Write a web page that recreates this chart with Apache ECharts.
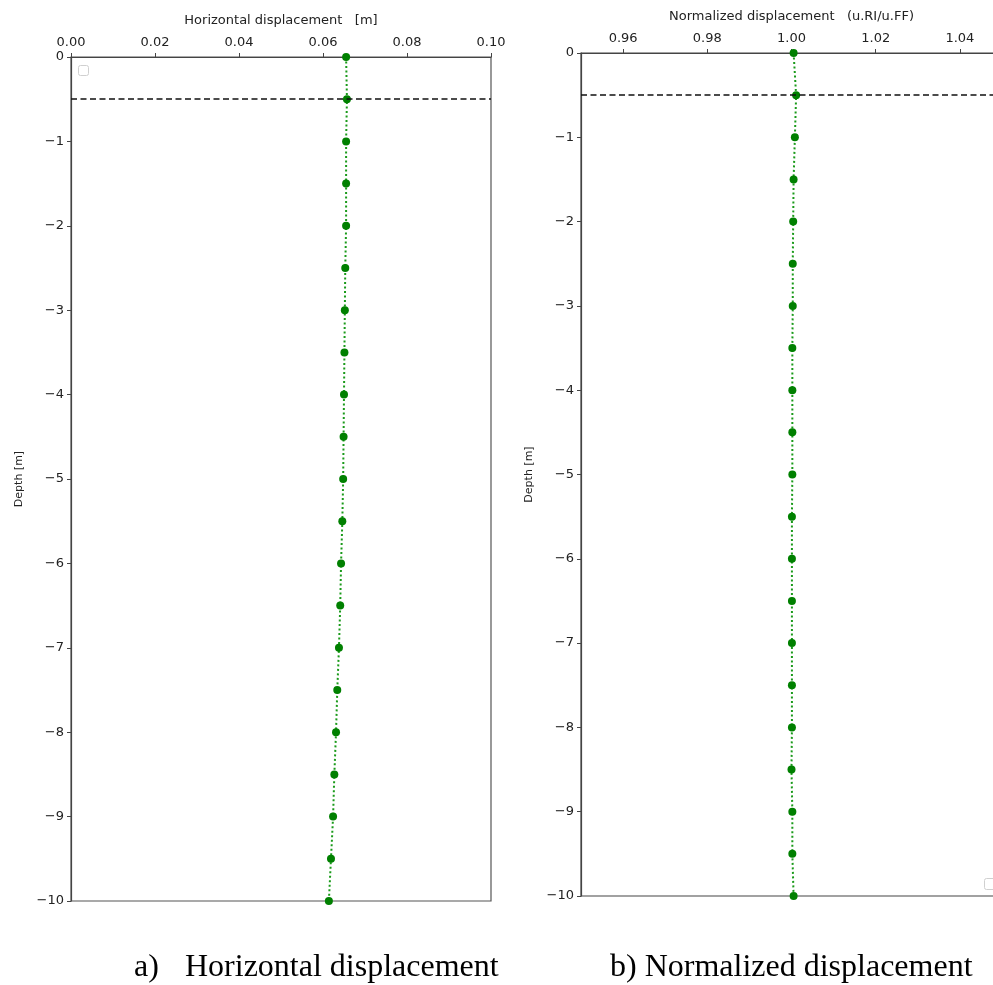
<!DOCTYPE html>
<html>
<head>
<meta charset="utf-8">
<title>Displacement profiles</title>
<script src="https://cdn.jsdelivr.net/npm/echarts@6/dist/echarts.min.js"></script>
<style>
  html, body { margin: 0; padding: 0; background: #fff; }
  #chart { width: 993px; height: 985px; }
</style>
</head>
<body>
<div id="chart"></div>
<script>
// depth of each node [m]
const depth = [0, -0.5, -1, -1.5, -2, -2.5, -3, -3.5, -4, -4.5, -5, -5.5, -6, -6.5, -7, -7.5, -8, -8.5, -9, -9.5, -10]

// a) horizontal displacement [m]
const horizontal = [0.0655, 0.0657, 0.0655, 0.0655, 0.0655, 0.0653, 0.0652, 0.0651, 0.0650, 0.0649, 0.0648, 0.0646, 0.0643, 0.0641, 0.0638, 0.0634, 0.0631, 0.0627, 0.0624, 0.0619, 0.0614]

// b) normalized displacement u.RI/u.FF
const normalized = [1.0005, 1.0011, 1.0008, 1.0005, 1.0004, 1.0003, 1.0003, 1.0002, 1.0002, 1.0002, 1.0002, 1.0001, 1.0001, 1.0001, 1.0001, 1.0001, 1.0001, 1.0000, 1.0002, 1.0002, 1.0005]

// tick labels
const ticksA = [0, 0.02, 0.04, 0.06, 0.08, 0.10]
const ticksB = [0.96, 0.98, 1.00, 1.02, 1.04]

const interfaceDepth = -0.5

const chart = echarts.init(document.getElementById('chart'))

const textColor = '#222'
const fontFamily = 'DejaVu Sans'

function xAxisOpt(gridIndex, name, min, max, ticks) {
  return {
    gridIndex: gridIndex,
    type: 'value',
    position: 'top',
    min: min,
    max: max,
    name: name,
    nameLocation: 'middle',
    nameGap: 30,
    nameTextStyle: { color: textColor, fontSize: 13, fontFamily: fontFamily },
    axisLine: { show: true, onZero: false, lineStyle: { color: '#444', width: 1.2 } },
    axisTick: { show: true, inside: false, length: 4, customValues: ticks, lineStyle: { color: '#444' } },
    axisLabel: {
      color: textColor, fontSize: 13, fontFamily: fontFamily, margin: 8,
      customValues: ticks,
      formatter: v => v.toFixed(2)
    },
    splitLine: { show: false }
  }
}

function yAxisOpt(gridIndex) {
  return {
    gridIndex: gridIndex,
    type: 'value',
    min: -10,
    max: 0,
    interval: 1,
    name: 'Depth [m]',
    nameLocation: 'middle',
    nameGap: 46,
    nameRotate: 90,
    nameTextStyle: { color: textColor, fontSize: 11, fontFamily: fontFamily },
    axisLine: { show: true, onZero: false, lineStyle: { color: '#444', width: 1.2 } },
    axisTick: { show: true, length: 4, lineStyle: { color: '#444' } },
    axisLabel: {
      color: textColor, fontSize: 13, fontFamily: fontFamily, margin: 7,
      formatter: v => (v < 0 ? '\u2212' + Math.abs(v) : String(v))
    },
    splitLine: { show: false }
  }
}

function seriesOpt(idx, values) {
  return {
    type: 'line',
    xAxisIndex: idx,
    yAxisIndex: idx,
    data: values.map((v, i) => [v, depth[i]]),
    symbol: 'circle',
    symbolSize: 8,
    clip: false,
    itemStyle: { color: '#008000' },
    lineStyle: { color: '#1a9a1a', width: 2, type: [2, 2.5] },
    markLine: {
      silent: true,
      symbol: 'none',
      label: { show: false },
      lineStyle: { color: '#111', width: 1.5, type: [6, 3.5] },
      data: [{ yAxis: interfaceDepth }]
    },
    z: 3
  }
}

const captionFont = '32px "Liberation Serif"'

const option = {
  backgroundColor: '#fff',
  animation: false,
  grid: [
    { left: 71, top: 57, width: 420, height: 844, show: true, borderColor: '#555', borderWidth: 1.2, backgroundColor: 'transparent', outerBoundsMode: 'none' },
    { left: 581, top: 53, width: 421, height: 843, show: true, borderColor: '#444', borderWidth: 1.2, backgroundColor: 'transparent', outerBoundsMode: 'none' }
  ],
  xAxis: [
    xAxisOpt(0, 'Horizontal displacement   [m]', 0, 0.1, ticksA),
    xAxisOpt(1, 'Normalized displacement   (u.RI/u.FF)', 0.95, 1.05, ticksB)
  ],
  yAxis: [yAxisOpt(0), yAxisOpt(1)],
  series: [
    seriesOpt(0, horizontal),
    seriesOpt(1, normalized)
  ],
  graphic: [
    // empty legend boxes
    { type: 'rect', left: 78, top: 65, shape: { width: 10, height: 10, r: 2 }, style: { fill: '#fff', stroke: '#d0d0d0', lineWidth: 1 } },
    { type: 'rect', left: 984, top: 878, shape: { width: 11, height: 11, r: 2 }, style: { fill: '#fff', stroke: '#d0d0d0', lineWidth: 1 } },
    // captions
    { type: 'text', x: 134, y: 984, style: { text: 'a)', font: captionFont, fill: '#000', verticalAlign: 'bottom' } },
    { type: 'text', x: 185, y: 984, style: { text: 'Horizontal displacement', font: captionFont, fill: '#000', verticalAlign: 'bottom' } },
    { type: 'text', x: 610, y: 984, style: { text: 'b) Normalized displacement', font: captionFont, fill: '#000', verticalAlign: 'bottom' } }
  ]
}

chart.setOption(option)
</script>
</body>
</html>
